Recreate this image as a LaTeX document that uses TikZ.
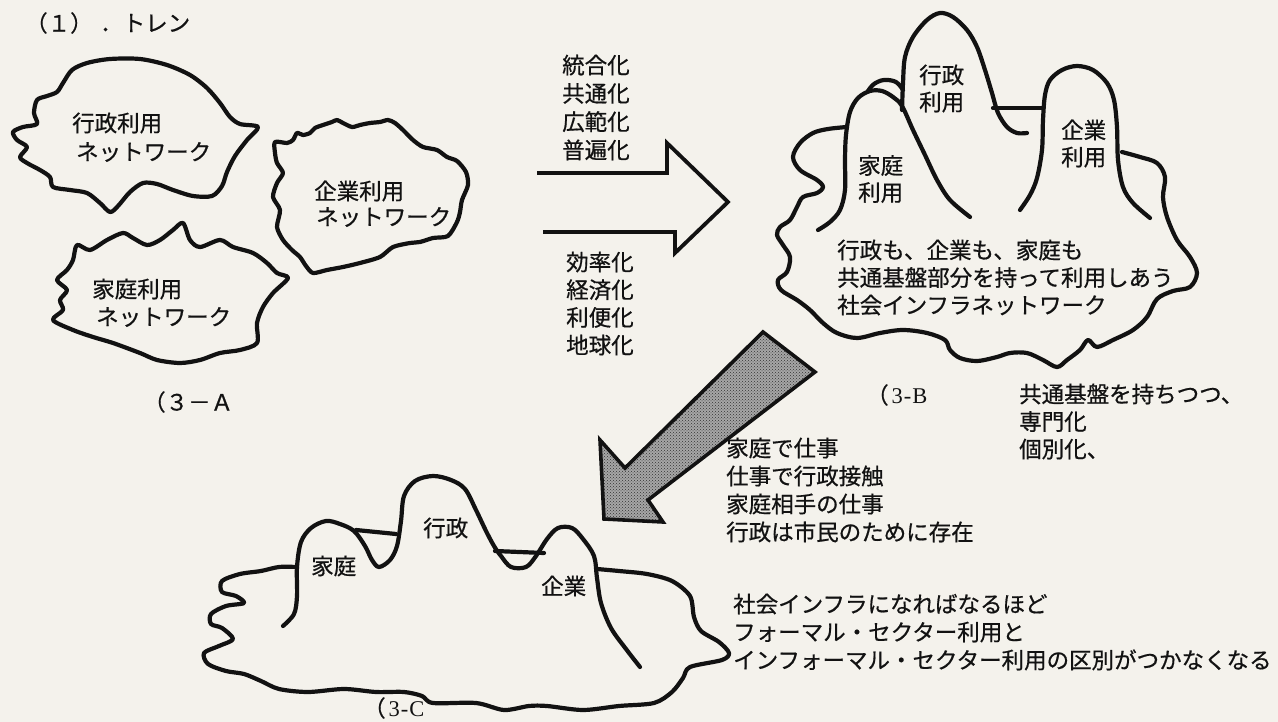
\documentclass[tikz,border=0pt]{standalone}
\usepackage{fontspec}
\setmainfont{Liberation Serif}
\newfontfamily\jp[FakeBold=0.6]{Noto Sans CJK JP}
\usetikzlibrary{patterns}
\definecolor{paper}{RGB}{244,242,236}
\definecolor{ink}{RGB}{18,18,18}
\begin{document}
\begin{tikzpicture}[x=1pt,y=-1pt,
  outline/.style={draw=ink, line width=4.2pt, line cap=round, line join=round},
  txt/.style={font=\jp\fontsize{22.5}{#1}\selectfont, text=ink, anchor=west, inner sep=0pt, align=left},
  txt/.default=28,
  lbl/.style={font=\fontsize{22.5}{28}\selectfont, text=ink, anchor=west, inner sep=0pt}
]
\useasboundingbox (0,0) rectangle (1278,722);
\fill[paper] (0,0) rectangle (1278,722);

% title
\node[txt] (t1) at (25,23) {（１）};
\node[txt] (t2) at (100,23) {．トレン};

% ---------- 3-A clouds ----------
\draw[outline] plot[smooth cycle, tension=0.5] coordinates {
 (72,70) (87,63) (110,59) (140,59) (167,65) (190,75) (207,88) (220,103) (230,117) (240,124) (258,127)
 (247,140) (235,156) (227,172) (222,186) (212,196) (193,196) (173,190) (157,184) (143,183) (130,192)
 (118,206) (110,212) (100,203) (87,193) (70,190) (53,187) (50,177) (40,170) (27,163) (20,157) (27,147)
 (17,140) (13,132) (23,127) (37,124) (34,113) (37,100) (47,96) (57,92) (63,83)};
\node[txt] (a1) at (72,123) {行政利用};
\node[txt] (a2) at (76,152) {ネットワーク};

\draw[outline] plot[smooth cycle, tension=0.45] coordinates {
 (275,142) (287,143) (293,140) (297,133) (303,135) (310,133) (315,128) (323,125) (332,122) (337,120)
 (343,123) (352,127) (360,125) (370,123) (380,122) (388,120) (395,123) (403,130) (413,140) (423,147)
 (437,150) (447,157) (457,161) (466,172) (468,185) (462,200) (460,212) (457,222) (448,236) (433,238)
 (420,242) (410,243) (393,247) (380,257) (360,263) (343,267) (327,270) (313,273) (306,266) (300,257)
 (292,250) (283,240) (277,227) (280,210) (273,197) (277,183) (283,173) (277,163) (275,153)};
\node[txt] (b1) at (314,191) {企業利用};
\node[txt] (b2) at (316,217) {ネットワーク};

\draw[outline] plot[smooth cycle, tension=0.5] coordinates {
 (77,245) (90,250) (107,240) (123,233) (133,238) (147,245) (160,240) (173,230) (183,223) (190,240)
 (200,247) (220,240) (233,247) (253,253) (267,263) (277,273) (288,278) (273,293) (263,307) (257,323)
 (257,343) (240,350) (220,353) (200,360) (180,363) (157,360) (140,353) (113,343) (93,337) (73,330)
 (53,320) (63,310) (60,300) (67,290) (57,280) (67,270) (73,260)};
\node[txt] (c1) at (92,289) {家庭利用};
\node[txt] (c2) at (96,317) {ネットワーク};

\node[txt] (capA) at (143,402) {（３－Ａ};

% ---------- open arrow ----------
\draw[draw=ink, line width=3.8pt, line join=miter, line cap=butt]
 (537,173) -- (667,173) -- (667,143) -- (728,202) -- (675,253) -- (675,232) -- (543,232);
\node[txt=28.3] (up) at (562,107.5) {統合化\\共通化\\広範化\\普遍化};
\node[txt=27.7] (dn) at (566,303.5) {効率化\\経済化\\利便化\\地球化};

% ---------- 3-B ----------
\draw[outline] plot[smooth, tension=0.55] coordinates {
 (818,230) (830,222) (840,210) (845,190) (845,160) (846,135) (850,112) (858,98) (870,91) (882,91)
 (893,97) (902,106) (913,130) (925,155) (937,180) (950,200) (970,217)};
\draw[outline] plot[smooth, tension=0.6] coordinates {(868,91) (874,84) (884,80) (896,82) (903,90)};
\draw[outline] plot[smooth, tension=0.55] coordinates {
 (902,110) (903,83) (905,57) (913,37) (927,20) (940,13) (953,17) (967,30) (977,47) (985,70) (992,93)
 (998,113) (1007,127) (1017,133) (1027,133)};
\draw[outline] (993,108) -- (1043,108);
\draw[outline] plot[smooth, tension=0.55] coordinates {
 (1020,210) (1030,195) (1037,178) (1042,150) (1043,120) (1045,95) (1050,80) (1062,70) (1077,66)
 (1093,70) (1107,83) (1114,100) (1117,127) (1118,160) (1123,187) (1133,203) (1150,218)};
\draw[outline] plot[smooth, tension=0.55] coordinates {
 (847,127) (828,129) (813,133) (800,143) (793,157) (800,170) (817,180) (823,187) (817,193) (803,197)
 (797,207) (790,220) (780,227) (777,235) (783,245) (790,257) (787,272) (778,280) (781,290) (797,300)
 (810,310) (823,323) (837,333) (857,338) (880,333) (903,330) (927,333) (945,340) (950,350) (960,358)
 (977,361) (997,357) (1010,353) (1027,353) (1043,360) (1057,367) (1067,360) (1080,350) (1088,340)
 (1097,347) (1113,340) (1133,330) (1147,317) (1157,299) (1173,291) (1190,287) (1197,273) (1190,257)
 (1177,240) (1167,217) (1163,197) (1165,177) (1157,163) (1140,157) (1122,152)};
\node[txt=27] (bk) at (858,179) {家庭\\利用};
\node[txt=27] (bg) at (919,88.5) {行政\\利用};
\node[txt=27] (bc) at (1061,143.5) {企業\\利用};
\node[txt=27.5] (bmain) at (837,277.5) {行政も、企業も、家庭も\\共通基盤部分を持って利用しあう\\社会インフラネットワーク};
\node[lbl] (capB) at (866,395) {{\jp （}\hspace{3pt}3\hspace{1pt}-\hspace{1pt}B};
\node[txt=27.5] (bnote) at (1019,421.5) {共通基盤を持ちつつ、\\専門化\\個別化、};

% ---------- gray arrow ----------
\draw[draw=ink, line width=3.6pt, line join=miter, preaction={fill=black!35},
      pattern=crosshatch dots, pattern color=black!80]
 (763,332) -- (815,372) -- (648,500) -- (663,522) -- (604,519) -- (600,440) -- (625,468) -- cycle;
\node[txt=28] (cnote) at (726,490) {家庭で仕事\\仕事で行政接触\\家庭相手の仕事\\行政は市民のために存在};

% ---------- 3-C ----------
\draw[outline] plot[smooth, tension=0.55] coordinates {
 (283,626) (294,614) (297,596) (297,567) (301,542) (311,528) (326,521) (340,524) (354,531) (365,546)
 (372,560) (379,567) (390,560) (397,546) (401,521) (404,496) (415,481) (433,476) (451,480) (465,489)
 (476,510) (486,531) (494,546) (501,556) (511,567) (526,567) (536,556) (547,539) (558,528) (572,528)
 (583,539) (594,556) (597,578) (601,603) (611,628) (626,649) (640,667)};
\draw[outline] (356,530) -- (396,534);
\draw[outline] (495,551) -- (544,553);
\draw[outline] plot[smooth, tension=0.5] coordinates {
 (297,567) (279,567) (261,571) (240,574) (222,581) (222,592) (236,596) (244,603) (226,606) (211,614)
 (211,624) (222,628) (233,639) (219,646) (204,653) (208,664) (226,671) (244,674) (261,681) (279,689)
 (308,692) (344,689) (376,692) (404,692) (422,696) (433,703) (476,703) (504,710) (529,706) (547,706)
 (583,710) (619,706) (654,703) (672,692) (683,678) (690,667) (722,660) (729,653) (719,642) (701,631)
 (694,617) (690,596) (672,581) (647,574) (619,571) (597,569)};
\node[txt] (ck) at (311,566) {家庭};
\node[txt] (cg) at (423,528) {行政};
\node[txt] (cc) at (541,586) {企業};
\node[lbl] (capC) at (363,708) {{\jp （}\hspace{3pt}3\hspace{1pt}-\hspace{1pt}C};
\node[txt=28] (dnote) at (733,632) {社会インフラになればなるほど\\フォーマル・セクター利用と\\インフォーマル・セクター利用の区別がつかなくなる};
\end{tikzpicture}
\end{document}
